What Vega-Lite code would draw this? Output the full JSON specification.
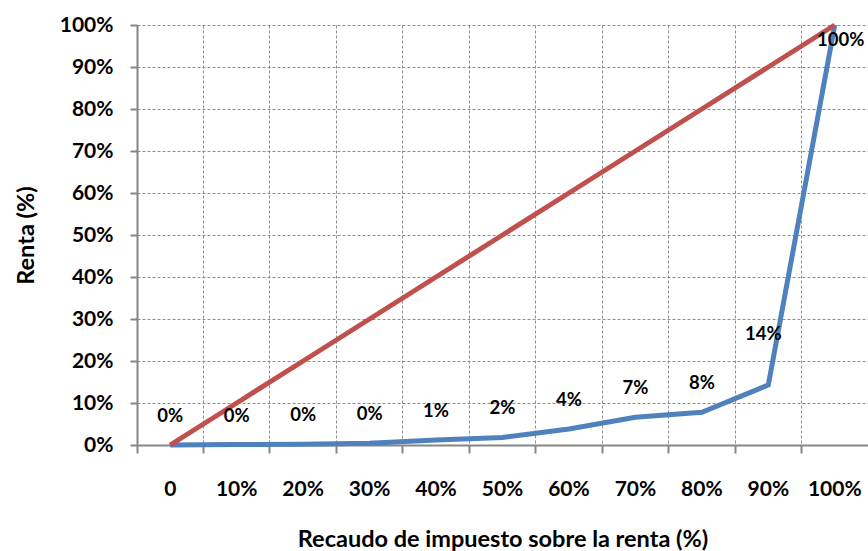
{
  "$schema": "https://vega.github.io/schema/vega-lite/v6.json",
  "width": 731,
  "height": 420,
  "autosize": {"type": "none"},
  "padding": {"left": 137, "top": 25, "right": 0, "bottom": 106},
  "background": "white",
  "config": {
    "view": {"stroke": null},
    "font": "Lato",
    "axis": {
      "domainColor": "#868686",
      "domainWidth": 2,
      "tickColor": "#868686",
      "tickWidth": 2,
      "gridColor": "#8c8c8c",
      "gridDash": [3, 2],
      "gridWidth": 1,
      "labelFont": "Lato",
      "labelFontWeight": "bold",
      "labelFontSize": 21,
      "labelColor": "#000000",
      "titleFont": "Lato",
      "titleFontWeight": "bold",
      "titleFontSize": 23.5,
      "titleColor": "#000000"
    }
  },
  "data": {
    "values": [
      {"recaudo": "0", "igualdad": 0.0, "renta": 0.0},
      {"recaudo": "10%", "igualdad": 0.1, "renta": 0.001},
      {"recaudo": "20%", "igualdad": 0.2, "renta": 0.002},
      {"recaudo": "30%", "igualdad": 0.3, "renta": 0.004},
      {"recaudo": "40%", "igualdad": 0.4, "renta": 0.012},
      {"recaudo": "50%", "igualdad": 0.5, "renta": 0.018},
      {"recaudo": "60%", "igualdad": 0.6, "renta": 0.038},
      {"recaudo": "70%", "igualdad": 0.7, "renta": 0.066},
      {"recaudo": "80%", "igualdad": 0.8, "renta": 0.078},
      {"recaudo": "90%", "igualdad": 0.9, "renta": 0.143},
      {"recaudo": "100%", "igualdad": 1.0, "renta": 1.0}
    ]
  },
  "encoding": {
    "x": {
      "field": "recaudo",
      "type": "ordinal",
      "sort": null,
      "bandPosition": 0.5,
      "scale": {"type": "band", "paddingInner": 0, "paddingOuter": 0},
      "axis": {
        "title": "Recaudo de impuesto sobre la renta (%)",
        "labelAngle": 0,
        "bandPosition": 0,
        "tickSize": 8,
        "labelPadding": 25,
        "titlePadding": 28,
        "grid": true,
        "zindex": 0
      }
    }
  },
  "layer": [
    {
      "mark": {"type": "line", "color": "#4F81BD", "strokeWidth": 5, "strokeJoin": "miter"},
      "encoding": {
        "y": {
          "field": "renta",
          "type": "quantitative",
          "scale": {"domain": [0, 1], "nice": false},
          "axis": {
            "title": "Renta (%)",
            "format": ".0%",
            "values": [0, 0.1, 0.2, 0.3, 0.4, 0.5, 0.6, 0.7, 0.8, 0.9, 1.0],
            "tickSize": 7,
            "labelPadding": 17,
            "titlePadding": 21,
            "grid": true,
            "zindex": 0
          }
        }
      }
    },
    {
      "mark": {"type": "line", "color": "#C0504D", "strokeWidth": 5},
      "encoding": {
        "y": {"field": "igualdad", "type": "quantitative"}
      }
    },
    {
      "transform": [{"filter": "datum.renta < 0.1"}],
      "mark": {"type": "text", "font": "Lato", "fontWeight": "bold", "fontSize": 18.5, "color": "#000000", "baseline": "middle", "dy": -29},
      "encoding": {
        "y": {"field": "renta", "type": "quantitative"},
        "text": {"field": "renta", "type": "quantitative", "format": ".0%"}
      }
    },
    {
      "transform": [{"filter": "datum.renta >= 0.1 && datum.renta < 1"}],
      "mark": {"type": "text", "font": "Lato", "fontWeight": "bold", "fontSize": 18.5, "color": "#000000", "baseline": "middle", "dy": -51, "dx": -5},
      "encoding": {
        "y": {"field": "renta", "type": "quantitative"},
        "text": {"field": "renta", "type": "quantitative", "format": ".0%"}
      }
    },
    {
      "transform": [{"filter": "datum.renta >= 1"}],
      "mark": {"type": "text", "font": "Lato", "fontWeight": "bold", "fontSize": 18.5, "color": "#000000", "baseline": "middle", "dy": 15, "dx": 6},
      "encoding": {
        "y": {"field": "renta", "type": "quantitative"},
        "text": {"field": "renta", "type": "quantitative", "format": ".0%"}
      }
    }
  ]
}
